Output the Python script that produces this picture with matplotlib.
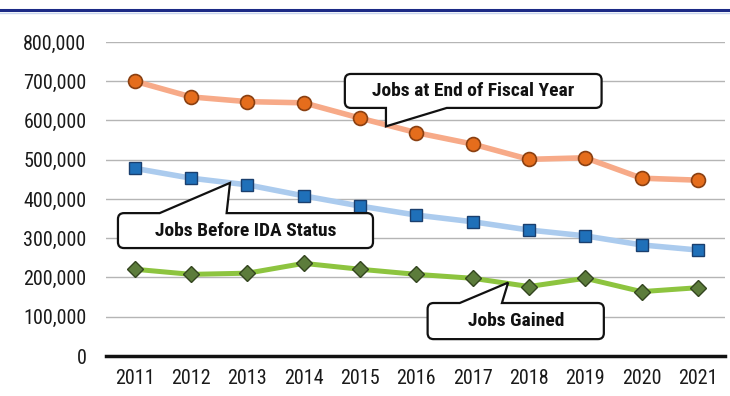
import numpy as np
import matplotlib
matplotlib.use("Agg")
import matplotlib.pyplot as plt
from matplotlib.path import Path
from matplotlib.patches import PathPatch
from matplotlib.lines import Line2D
from matplotlib.ticker import FuncFormatter

years = ["2011", "2012", "2013", "2014", "2015", "2016", "2017", "2018", "2019", "2020", "2021"]
jobs_end = [700000, 660000, 648000, 645000, 606000, 569000, 540000, 501000, 505000, 453000, 448000]
jobs_before = [478000, 453000, 436000, 408000, 382000, 359000, 342000, 321000, 306000, 283000, 270000]
jobs_gained = [221000, 208000, 211000, 236000, 221000, 208000, 198000, 177000, 198000, 164000, 174000]

NARROW = ["Liberation Sans Narrow", "Roboto Condensed", "DejaVu Sans"]

fig = plt.figure(figsize=(7.3, 3.96), dpi=100)
ax = fig.add_axes([0.145, 0.101, 0.848, 0.793])

x = np.arange(len(years))

ax.plot(x, jobs_end, color="#f7aa88", lw=4.0, zorder=3, solid_capstyle="round")
ax.plot(x, jobs_end, ls="none", marker="o", ms=10, mfc="#e56d1c", mec="#8a4012", mew=1.2, zorder=4)

ax.plot(x, jobs_before, color="#abcbee", lw=4.0, zorder=3, solid_capstyle="round")
ax.plot(x, jobs_before, ls="none", marker="s", ms=9, mfc="#1f70b9", mec="#1a3f6e", mew=1.0, zorder=4)

ax.plot(x, jobs_gained, color="#8dc43f", lw=3.6, zorder=3, solid_capstyle="round")
ax.plot(x, jobs_gained, ls="none", marker="D", ms=8.5, mfc="#5c7c3b", mec="#33451f", mew=1.0, zorder=4)

ax.set_xlim(-0.515, 10.48)
ax.set_ylim(0, 800000)
ax.set_yticks(np.arange(0, 800001, 100000))
ax.yaxis.set_major_formatter(FuncFormatter(lambda v, p: f"{int(v):,}"))
ax.set_xticks(x)
ax.set_xticklabels(years)
ax.grid(axis="y", color="#b5b5b5", lw=1.0)
ax.set_axisbelow(True)
for s in ["top", "right", "left"]:
    ax.spines[s].set_visible(False)
ax.spines["bottom"].set_linewidth(2.5)
ax.spines["bottom"].set_color("#111111")
ax.tick_params(axis="both", length=0, colors="#1a1a1a")
ax.tick_params(axis="y", pad=14, labelsize=14.5)
ax.tick_params(axis="x", pad=9, labelsize=14.5)
for lab in ax.get_xticklabels() + ax.get_yticklabels():
    lab.set_family(NARROW)

# navy rule across the top of the page
fig.add_artist(Line2D([0, 1], [0.975, 0.975], transform=fig.transFigure, color="#1c2a86", lw=2.2))
fig.add_artist(Line2D([0, 1], [0.966, 0.966], transform=fig.transFigure, color="#c9d6ef", lw=1.0))


def callout(x0, x1, y0, y1, base_a, base_b, tip, side, text):
    """Rounded box with a pointer, box/pointer given in data units."""
    tr = ax.transData
    L, B = tr.transform((x0, y0))
    R, T = tr.transform((x1, y1))
    ba = tr.transform((base_a, y0 if side == "bottom" else y1))[0]
    bb = tr.transform((base_b, y0 if side == "bottom" else y1))[0]
    tx, ty = tr.transform(tip)
    r = 6
    verts, codes = [], []

    def mv(p):
        verts.append(p); codes.append(Path.MOVETO)

    def ln(p):
        verts.append(p); codes.append(Path.LINETO)

    def cv(c, p):
        verts.extend([c, p]); codes.extend([Path.CURVE3, Path.CURVE3])

    mv((L + r, B))
    if side == "bottom":
        ln((ba, B)); ln((tx, ty)); ln((bb, B))
    ln((R - r, B)); cv((R, B), (R, B + r))
    ln((R, T - r)); cv((R, T), (R - r, T))
    if side == "top":
        ln((bb, T)); ln((tx, ty)); ln((ba, T))
    ln((L + r, T)); cv((L, T), (L, T - r))
    ln((L, B + r)); cv((L, B), (L + r, B))
    codes.append(Path.CLOSEPOLY); verts.append((L + r, B))
    fig.add_artist(PathPatch(Path(verts, codes), facecolor="white", edgecolor="#111111",
                             lw=1.6, transform=None, zorder=5))
    fig.text((L + R) / 2 / fig.bbox.width, (B + T) / 2 / fig.bbox.height, text,
             ha="center", va="center", fontsize=14, fontweight="bold",
             family=NARROW, color="#111111", zorder=6)


fig.canvas.draw()
callout(3.73, 8.29, 632000, 718500, 4.46, 5.54, (4.46, 585000), "bottom", "Jobs at End of Fiscal Year")
callout(-0.30, 4.23, 275000, 364000, 0.44, 1.63, (1.69, 441000), "top", "Jobs Before IDA Status")
callout(5.20, 8.33, 43000, 135000, 5.77, 6.52, (6.63, 187000), "top", "Jobs Gained")

fig.savefig("out.png", dpi=100)
